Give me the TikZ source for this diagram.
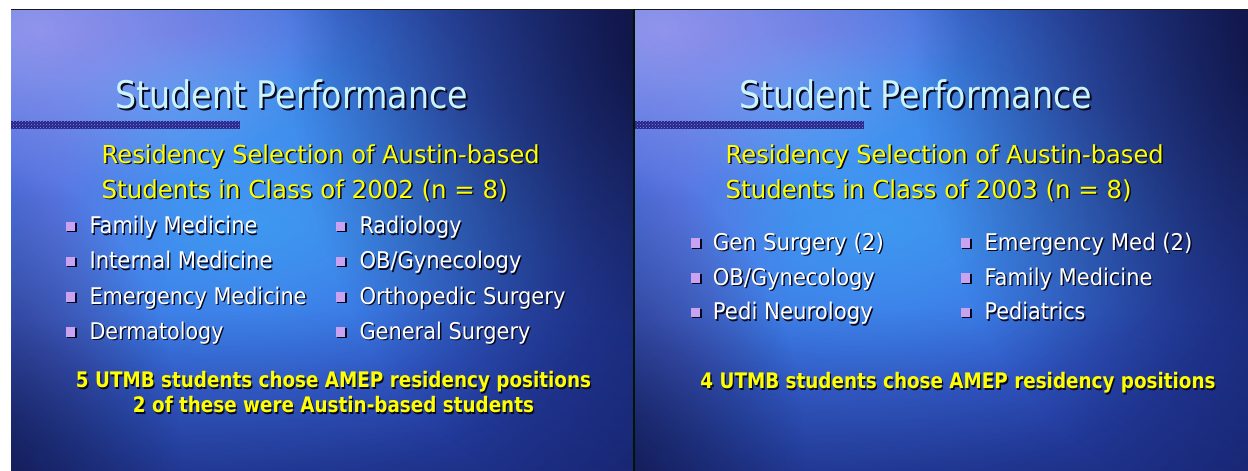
\documentclass[tikz,border=0pt]{standalone}
\usepackage{fontspec}
\setmainfont{DejaVu Sans}
\usepackage{graphicx}
\usetikzlibrary{fadings,patterns,shadows}
\definecolor{navy}{HTML}{0C0C30}
\definecolor{basec}{HTML}{12164E}
\definecolor{shcol}{HTML}{08081C}
\definecolor{titlec}{HTML}{CCF4FF}
\definecolor{subc}{HTML}{FFFF00}
\definecolor{lilac}{HTML}{C9A2F2}
\definecolor{bgA}{HTML}{2238B4}
\definecolor{bgB}{HTML}{3A6AEA}
\definecolor{bgC}{HTML}{4C8CF4}
\definecolor{bgD}{HTML}{A4A8F6}
\definecolor{bgE}{HTML}{3AA8F0}
\definecolor{bgF}{HTML}{8A60D8}
\definecolor{barc}{HTML}{26248C}
\definecolor{barp}{HTML}{7F95D8}
\tikzfading[name=softfade, inner color=transparent!0, outer color=transparent!100]
\newcommand{\dsh}[2][1.5pt]{\leavevmode\rlap{\kern#1\raisebox{-#1}{\textcolor{shcol}{#2}}}#2}
\newcommand{\fitt}[3][1.5pt]{\resizebox{#2}{\height}{\dsh[#1]{#3}}}
\newcommand{\bitem}[6]{%
  \node[sq] (#1s) at ({#2+4.5},{#4-7.2}) {};
  \node[item] (#1) at (#3,#4) {\fitt{#5}{#6}};
}
\newcommand{\blob}[6]{% color, opacity, cx, cy, rx, ry
  \fill[#1, fill opacity=#2, path fading=softfade] (#3,#4) ellipse [x radius=#5pt, y radius=#6pt];
}
\newcommand{\slidebg}[1]{%
  \begin{scope}
    \clip (0,0) rectangle (#1,462);
    \fill[basec] (0,0) rectangle (#1,462);
    \blob{bgA}{1}{280}{250}{820}{660}
    \blob{bgB}{1}{230}{200}{640}{480}
    \blob{bgC}{0.9}{190}{150}{460}{340}
    \blob{bgE}{0.6}{250}{215}{320}{170}
    \blob{bgE}{0.45}{180}{60}{280}{120}
    \blob{bgD}{0.85}{30}{20}{300}{170}
    \blob{bgF}{0.35}{40}{200}{120}{240}
    \blob{bgF}{0.3}{170}{20}{200}{60}
    \blob{navy}{0.85}{660}{40}{380}{480}
    \blob{navy}{0.45}{300}{540}{800}{240}
    \blob{navy}{0.6}{-30}{450}{200}{300}
    \fill[barc] (0,112) rectangle (229,120);
    \fill[pattern=crosshatch dots, pattern color=barp] (0,112) rectangle (229,120);
  \end{scope}
}
\tikzset{
  title/.style={anchor=base west, inner sep=0pt, text=titlec, font=\fontsize{38pt}{40pt}\selectfont},
  sub/.style={anchor=base west, inner sep=0pt, text=subc, font=\fontsize{24.7pt}{27pt}\selectfont},
  item/.style={anchor=base west, inner sep=0pt, text=white, font=\fontsize{23pt}{25pt}\selectfont},
  foot/.style={anchor=base, inner sep=0pt, text=subc, font=\bfseries\fontsize{21.4pt}{23pt}\selectfont},
  sq/.style={rectangle, minimum size=9.5pt, inner sep=0pt, fill=lilac,
    drop shadow={shadow xshift=1.3pt, shadow yshift=-1.3pt, opacity=1, fill=shcol}}
}
\begin{document}
\begin{tikzpicture}[x=1pt,y=-1pt]
\useasboundingbox (0,0) rectangle (1248,471);
\fill[white] (0,0) rectangle (1248,471);
% slide backgrounds
\begin{scope}[shift={(11,9)}]\slidebg{622}\end{scope}
\begin{scope}[shift={(635,9)}]\slidebg{613}\end{scope}
\fill[black!90] (11,9) rectangle (1248,10);
\fill[black!92!green] (633,9) rectangle (635,471);
% slide 1
\node[title] (t1) at (115,108) {\fitt[2.2pt]{353pt}{Student Performance}};
\node[sub] (s1a) at (101.5,163) {\fitt{438pt}{Residency Selection of Austin-based}};
\node[sub] (s1b) at (101.5,198.3) {\fitt{406pt}{Students in Class of 2002 (n = 8)}};
\bitem{a1}{66}{89.3}{233.5}{168pt}{Family Medicine}
\bitem{a2}{66}{89.3}{268.5}{183pt}{Internal Medicine}
\bitem{a3}{66}{89.3}{304}{217pt}{Emergency Medicine}
\bitem{a4}{66}{89.3}{339}{134pt}{Dermatology}
\bitem{b1}{336}{359.3}{233.5}{102pt}{Radiology}
\bitem{b2}{336}{359.3}{268.5}{162pt}{OB/Gynecology}
\bitem{b3}{336}{359.3}{304}{206pt}{Orthopedic Surgery}
\bitem{b4}{336}{359.3}{339}{171pt}{General Surgery}
\node[foot] (f1a) at (333.5,387.5) {\fitt{515pt}{5 UTMB students chose AMEP residency positions}};
\node[foot] (f1b) at (333.5,412.5) {\fitt{401pt}{2 of these were Austin-based students}};
% slide 2
\node[title] (t2) at (739,108) {\fitt[2.2pt]{353pt}{Student Performance}};
\node[sub] (s2a) at (725.5,163) {\fitt{438pt}{Residency Selection of Austin-based}};
\node[sub] (s2b) at (725.5,198.3) {\fitt{406pt}{Students in Class of 2003 (n = 8)}};
\bitem{c1}{691}{712.7}{250}{171pt}{Gen Surgery (2)}
\bitem{c2}{691}{712.7}{285}{162pt}{OB/Gynecology}
\bitem{c3}{691}{712.7}{319.5}{160pt}{Pedi Neurology}
\bitem{d1}{961}{984.3}{250}{208pt}{Emergency Med (2)}
\bitem{d2}{961}{984.3}{285}{168pt}{Family Medicine}
\bitem{d3}{961}{984.3}{319.5}{101pt}{Pediatrics}
\node[foot] (f2a) at (958,388.5) {\fitt{515pt}{4 UTMB students chose AMEP residency positions}};
\end{tikzpicture}
\end{document}
